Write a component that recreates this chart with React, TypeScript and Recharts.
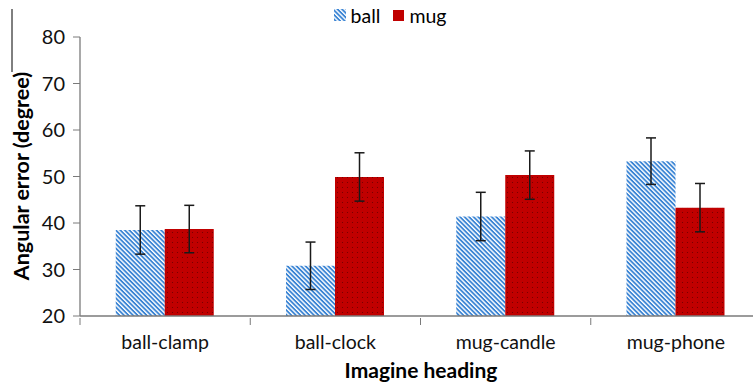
import { BarChart, Bar, XAxis, YAxis, ErrorBar, Legend } from 'recharts';

const headings = ['ball-clamp', 'ball-clock', 'mug-candle', 'mug-phone'];
const ballError = [38.5, 30.8, 41.4, 53.3];
const ballErrorSd = [5.2, 5.1, 5.2, 5.0];
const mugError = [38.7, 49.9, 50.3, 43.3];
const mugErrorSd = [5.1, 5.2, 5.2, 5.2];
const yTicks = [20, 30, 40, 50, 60, 70, 80];

const data = headings.map((name, i) => ({
  name,
  ball: ballError[i],
  ballSd: ballErrorSd[i],
  mug: mugError[i],
  mugSd: mugErrorSd[i],
}));

const FONT = 'Lato, "Open Sans", sans-serif';
const CHART_W = 780;
const CHART_H = 387;
const PLOT_LEFT = 80;
const PLOT_RIGHT = 761;
const BAND = (PLOT_RIGHT - PLOT_LEFT) / headings.length;

function CategoryTick(props: any) {
  const { x, y, payload } = props;
  const bx = x - BAND / 2;
  return (
    <g>
      <line x1={bx} y1={y} x2={bx} y2={y + 7} stroke="#7a7a7a" strokeWidth={1} />
      <text x={x} y={y + 31} textAnchor="middle" fontSize={19.5} fontFamily={FONT} fill="#111">
        {payload.value}
      </text>
    </g>
  );
}

function LegendContent() {
  return (
    <div style={{ display: 'flex', justifyContent: 'center', alignItems: 'center', height: 26, fontFamily: FONT, fontSize: 19.5, color: '#000' }}>
      <svg width={12} height={12} style={{ marginRight: 5 }}>
        <rect width={12} height={12} fill="url(#ballHatch)" />
      </svg>
      <span style={{ marginRight: 13 }}>ball</span>
      <svg width={11} height={11} style={{ marginRight: 5 }}>
        <rect width={11} height={11} fill="#C00000" />
      </svg>
      <span>mug</span>
    </div>
  );
}

function XTitle() {
  return (
    <text x={421} y={378} textAnchor="middle" fontSize={21} fontWeight={700} fontFamily={FONT} fill="#000">
      Imagine heading
    </text>
  );
}

function YTitle() {
  const cy = 176;
  return (
    <g>
      <line x1={12} y1={9} x2={12} y2={72} stroke="#000" strokeWidth={1} />
      <text
        x={29}
        y={cy}
        transform={`rotate(-90, 29, ${cy})`}
        textAnchor="middle"
        fontSize={21.5}
        fontWeight={700}
        fontFamily={FONT}
        fill="#000"
      >
        Angular error (degree)
      </text>
    </g>
  );
}

export default function App() {
  return (
    <div style={{ position: 'absolute', left: 0, top: 0, width: 753, height: CHART_H, overflow: 'hidden', background: '#fff' }}>
      <svg width={0} height={0} style={{ position: 'absolute' }}>
        <defs>
          <pattern id="ballHatch" width={3.2} height={3.2} patternUnits="userSpaceOnUse" patternTransform="rotate(45)">
            <rect width={3.2} height={3.2} fill="#ffffff" />
            <rect width={3.2} height={1.8} fill="#3a84d4" />
          </pattern>
          <pattern id="mugDots" width={5} height={5} patternUnits="userSpaceOnUse">
            <rect width={5} height={5} fill="#C00000" />
            <circle cx={2.5} cy={2.5} r={0.55} fill="#6a0000" />
          </pattern>
        </defs>
      </svg>
      <BarChart
        width={CHART_W}
        height={CHART_H}
        data={data}
        margin={{ top: 11, right: CHART_W - PLOT_RIGHT, bottom: 0, left: 0 }}
        barCategoryGap="21%"
        barGap={0}
      >
        <Legend verticalAlign="top" align="center" content={<LegendContent />} wrapperStyle={{ top: 2, left: 0, width: CHART_W }} />
        <XAxis
          dataKey="name"
          height={71}
          axisLine={{ stroke: '#7a7a7a', strokeWidth: 1.3 }}
          tickLine={false}
          tickSize={0}
          tick={<CategoryTick />}
          interval={0}
          label={<XTitle />}
        />
        <YAxis
          width={PLOT_LEFT}
          domain={[20, 80]}
          ticks={yTicks}
          interval={0}
          axisLine={{ stroke: '#7a7a7a', strokeWidth: 1.3 }}
          tickLine={{ stroke: '#7a7a7a' }}
          tickSize={7}
          tickMargin={8}
          tick={{ fontSize: 20, fontFamily: FONT, fill: '#111' }}
          label={<YTitle />}
        />
        <Bar dataKey="ball" name="ball" fill="url(#ballHatch)" isAnimationActive={false}>
          <ErrorBar dataKey="ballSd" width={5} stroke="#1a1a1a" strokeWidth={1.5} />
        </Bar>
        <Bar dataKey="mug" name="mug" fill="url(#mugDots)" isAnimationActive={false}>
          <ErrorBar dataKey="mugSd" width={5} stroke="#1a1a1a" strokeWidth={1.5} />
        </Bar>
      </BarChart>
    </div>
  );
}
